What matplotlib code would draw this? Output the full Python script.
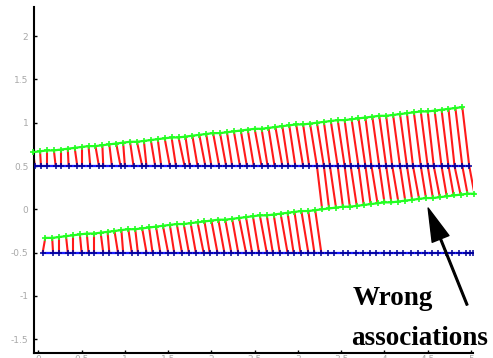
import numpy as np
import matplotlib
matplotlib.use("Agg")
import matplotlib.pyplot as plt

plt.rcParams['axes.unicode_minus'] = False

# ---- data ----
top_blue_y = 0.5
bot_blue_y = -0.5

top_green_x = [-0.06, 0.02, 0.10, 0.18, 0.26, 0.34, 0.42, 0.50, 0.58, 0.66, 0.74, 0.82, 0.90, 0.98,
               1.06, 1.14, 1.22, 1.30, 1.38, 1.46, 1.54, 1.62, 1.70, 1.78, 1.86, 1.94, 2.02, 2.10,
               2.18, 2.26, 2.34, 2.42, 2.50, 2.58, 2.66, 2.74, 2.82, 2.90, 2.98, 3.06, 3.14, 3.22,
               3.30, 3.38, 3.46, 3.54, 3.62, 3.70, 3.78, 3.86, 3.94, 4.02, 4.10, 4.18, 4.26, 4.34,
               4.42, 4.50, 4.58, 4.66, 4.74, 4.82, 4.90]
top_green_y = [0.66, 0.67, 0.68, 0.68, 0.69, 0.70, 0.71, 0.72, 0.73, 0.73, 0.74, 0.75, 0.76, 0.77,
               0.78, 0.78, 0.79, 0.80, 0.81, 0.82, 0.83, 0.83, 0.84, 0.85, 0.86, 0.87, 0.88, 0.88,
               0.89, 0.90, 0.91, 0.92, 0.93, 0.93, 0.94, 0.95, 0.96, 0.97, 0.98, 0.98, 0.99, 1.00,
               1.01, 1.02, 1.03, 1.03, 1.04, 1.05, 1.06, 1.07, 1.08, 1.08, 1.09, 1.10, 1.11, 1.12,
               1.13, 1.13, 1.14, 1.15, 1.16, 1.17, 1.18]
top_blue_x = [-0.04, 0.03, 0.10, 0.20, 0.26, 0.35, 0.45, 0.50, 0.60, 0.70, 0.75, 0.85, 0.95, 1.00,
              1.10, 1.20, 1.25, 1.35, 1.42, 1.52, 1.59, 1.69, 1.75, 1.84, 1.93, 2.00, 2.09, 2.17,
              2.24, 2.33, 2.41, 2.49, 2.58, 2.65, 2.73, 2.82, 2.89, 2.97, 3.06, 3.13, 3.22, 3.30,
              3.37, 3.46, 3.54, 3.61, 3.70, 3.78, 3.85, 3.94, 4.02, 4.09, 4.18, 4.26, 4.33, 4.42,
              4.50, 4.57, 4.66, 4.74, 4.81, 4.90, 4.98]

bot_green_x = [0.08, 0.16, 0.24, 0.32, 0.40, 0.48, 0.56, 0.64, 0.72, 0.80, 0.88, 0.96, 1.04, 1.12,
               1.20, 1.28, 1.36, 1.44, 1.52, 1.60, 1.68, 1.76, 1.84, 1.92, 2.00, 2.08, 2.16, 2.24,
               2.32, 2.40, 2.48, 2.56, 2.64, 2.72, 2.80, 2.88, 2.96, 3.04, 3.12, 3.20, 3.28, 3.36,
               3.44, 3.52, 3.60, 3.68, 3.76, 3.84, 3.92, 4.00, 4.08, 4.16, 4.24, 4.32, 4.40, 4.48,
               4.56, 4.64, 4.72, 4.80, 4.88, 4.96, 5.04]
bot_green_y = [-0.33, -0.33, -0.32, -0.31, -0.30, -0.29, -0.28, -0.28, -0.27, -0.26, -0.25, -0.24,
               -0.23, -0.23, -0.22, -0.21, -0.20, -0.19, -0.18, -0.17, -0.17, -0.16, -0.15, -0.14,
               -0.13, -0.12, -0.12, -0.11, -0.10, -0.09, -0.08, -0.07, -0.07, -0.06, -0.05, -0.04,
               -0.03, -0.02, -0.02, -0.01, 0.00, 0.01, 0.02, 0.03, 0.03, 0.04, 0.05, 0.06, 0.07,
               0.08, 0.08, 0.09, 0.10, 0.11, 0.12, 0.13, 0.13, 0.14, 0.15, 0.16, 0.17, 0.18, 0.18]
bot_blue_x = [0.05, 0.17, 0.24, 0.34, 0.40, 0.50, 0.58, 0.64, 0.75, 0.82, 0.92, 0.98, 1.08, 1.15,
              1.25, 1.32, 1.41, 1.50, 1.57, 1.66, 1.74, 1.82, 1.91, 1.98, 2.07, 2.15, 2.23, 2.31,
              2.40, 2.47, 2.55, 2.64, 2.71, 2.79, 2.88, 2.95, 3.03, 3.12, 3.19, 3.27, 3.35, 3.42,
              3.52, 3.58, 3.67, 3.75, 3.83, 3.90, 3.99, 4.07, 4.15, 4.22, 4.31, 4.39, 4.47, 4.55,
              4.62, 4.71, 4.78, 4.86, 4.94, 4.99, 5.02]
n_correct_bottom = 40   # lower-band points associated correctly

x_ticks = [0, 0.5, 1, 1.5, 2, 2.5, 3, 3.5, 4, 4.5, 5]
x_tick_labels = ['0', '0.5', '1', '1.5', '2', '2.5', '3', '3.5', '4', '4.5', '5']
y_ticks = [-1.5, -1, -0.5, 0, 0.5, 1, 1.5, 2]
y_tick_labels = ['-1.5', '-1', '-0.5', '0', '0.5', '1', '1.5', '2']

annotation_lines = ['Wrong', 'associations']

# ---- figure ----
fig = plt.figure(figsize=(4.93, 3.58), dpi=100)
ax = fig.add_axes([0.069, 0.0131, 0.8898, 0.9682])

red = '#ff1a1a'
rlw = 1.5
# correct associations, upper band
for gx, gy, bx in zip(top_green_x, top_green_y, top_blue_x):
    ax.plot([gx, bx], [gy, top_blue_y], color=red, lw=rlw, zorder=1, solid_capstyle='butt')
# lower band
tbx = np.array(top_blue_x)
for i, (gx, gy, bx) in enumerate(zip(bot_green_x, bot_green_y, bot_blue_x)):
    if i < n_correct_bottom:
        ax.plot([gx, bx], [gy, bot_blue_y], color=red, lw=rlw, zorder=1, solid_capstyle='butt')
    else:
        j = max(np.searchsorted(tbx, gx) - 1, 0)
        ax.plot([tbx[j], gx], [top_blue_y, gy], color=red, lw=rlw, zorder=1, solid_capstyle='butt')

blue = '#1a1aff'
for bx, by in ((top_blue_x, top_blue_y), (bot_blue_x, bot_blue_y)):
    ax.plot(bx, [by] * len(bx), color=blue, lw=1.6, zorder=2)
    ax.plot(bx, [by] * len(bx), ls='none', marker='+', ms=4, mew=1.1,
            color='#000099', zorder=3)

green = '#22ff22'
for gx, gy in ((top_green_x, top_green_y), (bot_green_x, bot_green_y)):
    ax.plot(gx, gy, color=green, lw=1.6, marker='+', ms=5, mew=1.2, zorder=4,
            clip_on=False)

ax.set_xlim(-0.05, 5.02)
ax.set_ylim(-1.663, 2.34)
ax.set_xticks(x_ticks)
ax.set_xticklabels(x_tick_labels)
ax.set_yticks(y_ticks)
ax.set_yticklabels(y_tick_labels)
ax.tick_params(direction='in', length=2.5, width=1, colors='black',
               labelcolor='#a8a8a8', labelsize=6.5)
ax.tick_params(axis='y', pad=4)
ax.tick_params(axis='x', pad=1.5)
for s in ('top', 'right'):
    ax.spines[s].set_visible(False)
for s in ('left', 'bottom'):
    ax.spines[s].set_linewidth(1.5)

ax.text(3.63, -1.105, annotation_lines[0], family='Liberation Serif', weight='bold',
        fontsize=19.5, ha='left', va='baseline')
ax.text(3.61, -1.566, annotation_lines[1], family='Liberation Serif', weight='bold',
        fontsize=19.5, ha='left', va='baseline')
ax.annotate('', xy=(4.505, 0.015), xytext=(4.956, -1.105),
            arrowprops=dict(facecolor='black', edgecolor='black', width=1.2,
                            headwidth=13, headlength=24, shrink=0),
            annotation_clip=False)

fig.savefig('out.png', dpi=100)
